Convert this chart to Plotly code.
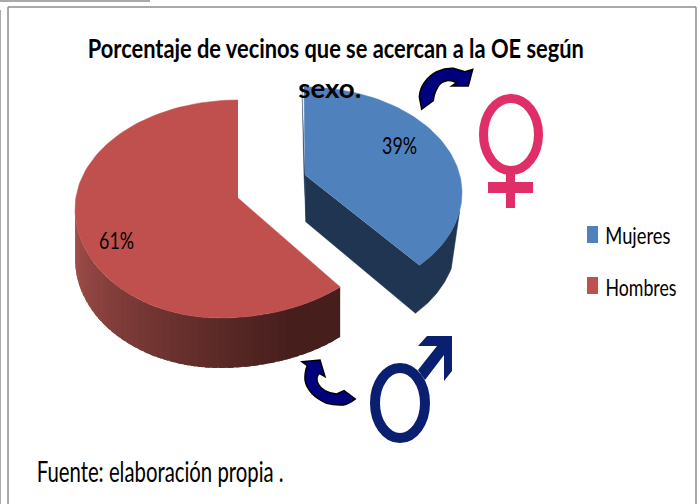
import json
import math
import plotly.graph_objects as go

# Data
categories = ["Mujeres", "Hombres"]
shares = [39, 61]
title_lines = ["Porcentaje de vecinos que se acercan a la OE según", "sexo."]
source_note = "Fuente: elaboración propia ."

FONT = "Lato, Open Sans, sans-serif"
BLUE, BLUE_SIDE = "#4F81BD", "#1F3552"
RED = "#C0504D"
RED_LIGHT, RED_DARK = (168, 82, 78), (70, 30, 28)
RED_DEPTH = 50
BLUE_DEPTH = 48

a_end = shares[0] / sum(shares) * 360


def warp(a, w):
    return a + w * math.sin(math.radians(2 * a))


def frange(a, b, n):
    return [a + (b - a) * i / n for i in range(n + 1)]


def blue_pt(t, dy=0, shrink=1.0):
    r = math.radians(t)
    return 304 + 158 * shrink * math.sin(r), 193 - 106 * math.cos(r) + dy


def red_pt(t, dy=0):
    r = math.radians(t)
    s, c = math.sin(r), math.cos(r)
    if c >= 0:
        x = 238 + 163 * s
    else:
        x = 220 + (172 if s > 0 else 145) * s
    return x, 209 - 109 * c + dy


def poly(pts, color, width=0.5):
    return go.Scatter(
        x=[p[0] for p in pts], y=[p[1] for p in pts], mode="lines", fill="toself",
        fillcolor=color, line=dict(color=color, width=width), hoverinfo="skip", showlegend=False,
    )


fig = go.Figure()

# Red slice: shaded side wall, then top face
red_start = warp(a_end, 4.8)
steps = frange(red_start, 272, 48)
for i in range(len(steps) - 1, 0, -1):
    t0, t1 = steps[i - 1], steps[i]
    f = (i - 1) / (len(steps) - 2)
    rgb = [round(RED_DARK[k] + (RED_LIGHT[k] - RED_DARK[k]) * min(1, max(0, f - 0.12) / 0.88)) for k in range(3)]
    t_far = min(t1 + 2, 272)
    fig.add_trace(poly([red_pt(t0), red_pt(t_far), red_pt(t_far, RED_DEPTH), red_pt(t0, RED_DEPTH)],
                       f"rgb({rgb[0]},{rgb[1]},{rgb[2]})", width=0))
red_apex = (238, 198)
fig.add_trace(poly([red_apex] + [red_pt(warp(a, 4.8)) for a in frange(a_end, 360, 120)], RED))

# Blue slice: dark side wall, then top face
blue_end = warp(a_end, 7.5)
blue_apex = (305, 175)
blue_low = (blue_apex[0] + 1, blue_apex[1] + 47)
wall = [blue_apex, blue_low]
wall += [blue_pt(t, BLUE_DEPTH, 0.965) for t in frange(blue_end, 105, 30)]
wall += [blue_pt(t) for t in frange(100, blue_end, 30)]
fig.add_trace(poly(wall, BLUE_SIDE))
fig.add_trace(poly([(blue_pt(0)[0] - 2, 87), (blue_apex[0] - 1, blue_apex[1]), blue_low, blue_apex], BLUE_SIDE))
fig.add_trace(poly([blue_apex] + [blue_pt(warp(a, 7.5)) for a in frange(0, a_end, 80)], BLUE))

shapes = []
GRAY = "#8C8C8C"
# Page frame
for x0, y0, x1, y1 in [(8, 7, 696, 7), (8, 7, 8, 504), (696, 7, 696, 504), (0, 1, 150, 1), (0, 10, 0, 504)]:
    shapes.append(dict(type="line", x0=x0, y0=y0, x1=x1, y1=y1, line=dict(color=GRAY, width=1.5)))

# Legend swatches
for (y0, y1), c in zip([(226, 243), (277, 294)], [BLUE, RED]):
    shapes.append(dict(type="rect", x0=587, x1=598, y0=y0, y1=y1, fillcolor=c, line=dict(width=0)))

# Female sign
PINK = "#E02E69"
shapes += [
    dict(type="circle", x0=483.5, x1=538.5, y0=98.5, y1=170.5, line=dict(color=PINK, width=9)),
    dict(type="rect", x0=506, x1=515, y0=172, y1=208, fillcolor=PINK, line=dict(width=0)),
    dict(type="rect", x0=488, x1=533, y0=182, y1=193, fillcolor=PINK, line=dict(width=0)),
]
# Male sign
NAVY = "#0A1F70"
shapes += [
    dict(type="circle", x0=375, x1=425, y0=368, y1=438, line=dict(color=NAVY, width=10)),
    dict(type="path", fillcolor=NAVY, line=dict(width=0),
         path="M427,336 L452,336 L452,371 L444,381 L444,355 L425,380 L418,370 L437,346 L418,346 Z"),
]
# Curved arrows
ARROW = "#00007F"
shapes += [
    dict(type="path", fillcolor=ARROW, line=dict(color="black", width=1.5),
         path="M421.7,109.3 L419.3,96.7 Q420,88 425,81.7 Q430,75 436.7,71.7 Q445,68 453.3,68.3 L465,71.7 L472.7,69.3 "
              "L468.3,86 L451.7,86 L456.7,82.7 Q451,80 446.7,80.7 Q441,82 438.3,86 Q434,93 433.3,100.7 Z"),
    dict(type="path", fillcolor=ARROW, line=dict(color="black", width=1.5),
         path="M302,361.7 L320,360 L325,376.7 L319.3,373.3 Q316,377 317.3,381.7 Q319,387 325,390.7 "
              "Q331,394 336.7,394 L344,390.7 L355.3,399 Q349,404 343.3,405 Q334,405.5 326.7,403.3 "
              "Q317,399 311.7,393.3 Q306,387 305,380 Q304.5,372 307.3,365.7 Z"),
]

ann = []
squeeze = {}


def label(text, x, y, size, width, weight="normal"):
    squeeze[text] = width
    ann.append(dict(text=text, x=x, y=y, xref="x", yref="y", xanchor="center", yanchor="middle", showarrow=False,
                    font=dict(family=FONT, size=size, color="#000000", weight=weight)))


label(title_lines[0], 336, 47, 27, 496, weight="bold")
label(title_lines[1], 329.5, 87, 27, 63, weight="bold")
label(f"{shares[0]}%", 399.5, 144, 24, 35)
label(f"{shares[1]}%", 116, 239, 24, 35)
label(categories[0], 637.5, 235, 23, 65)
label(categories[1], 640.5, 287, 23, 71)
label(source_note, 159.5, 471, 28, 247)

fig.update_layout(
    width=700, height=504, margin=dict(l=0, r=0, t=0, b=0),
    paper_bgcolor="white", plot_bgcolor="white", showlegend=False,
    xaxis=dict(range=[0, 700], visible=False, fixedrange=True),
    yaxis=dict(range=[504, 0], visible=False, fixedrange=True),
    shapes=shapes, annotations=ann,
)
post = (
    "document.body.style.margin='0';document.body.style.overflow='hidden';"
    "var w=" + json.dumps(squeeze, ensure_ascii=False) + ";"
    "function sq(){document.querySelectorAll('text.annotation-text').forEach(function(t){"
    "var k=w[t.textContent];if(k){t.setAttribute('textLength',k);t.setAttribute('lengthAdjust','spacingAndGlyphs');}});}"
    "sq();setTimeout(sq,50);setTimeout(sq,300);"
)
fig.write_html("out.html", post_script=post, config={"displayModeBar": False})
